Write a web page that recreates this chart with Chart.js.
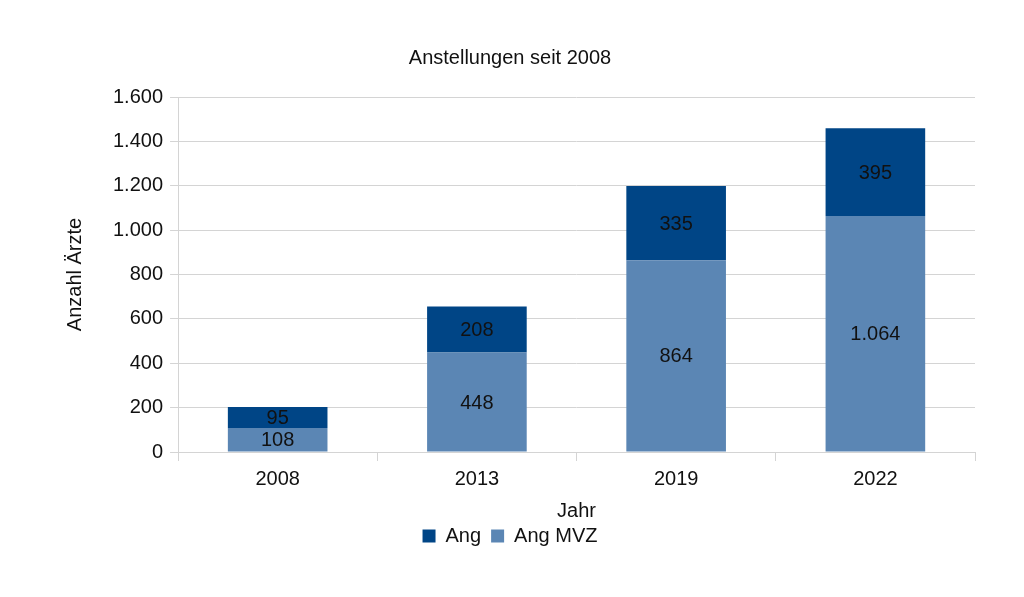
<!DOCTYPE html>
<html>
<head>
    <meta charset="utf-8">
    <title>Anstellungen seit 2008</title>
    <script src="https://cdn.jsdelivr.net/npm/chart.js"></script>
    <style>
        html, body { margin: 0; padding: 0; background: #fff; }
        canvas { display: block; }
    </style>
</head>
<body>
    <canvas id="chart" width="1024" height="597"></canvas>
    <script>
        const years = ['2008', '2013', '2019', '2022'];
        const angMVZ = [108, 448, 864, 1064];
        const ang = [95, 208, 335, 395];

        const fmt = v => String(v).replace(/\B(?=(\d{3})+(?!\d))/g, '.');
        const gridGray = '#d4d4d4';

        // writes the value in the middle of each bar segment
        const barLabels = {
            id: 'barLabels',
            afterDatasetsDraw(chart) {
                const ctx = chart.ctx;
                ctx.save();
                ctx.font = '20px "Liberation Sans", Arial, sans-serif';
                ctx.fillStyle = '#111';
                ctx.textAlign = 'center';
                ctx.textBaseline = 'middle';
                chart.data.datasets.forEach((ds, i) => {
                    chart.getDatasetMeta(i).data.forEach((bar, j) => {
                        ctx.fillText(fmt(ds.data[j]), bar.x, (bar.y + bar.base) / 2 + 1);
                    });
                });
                ctx.restore();
            }
        };

        Chart.defaults.font.family = '"Liberation Sans", Arial, sans-serif';
        Chart.defaults.font.size = 20;
        Chart.defaults.color = '#111';

        new Chart(document.getElementById('chart'), {
            type: 'bar',
            data: {
                labels: years,
                datasets: [
                    { label: 'Ang MVZ', data: angMVZ, backgroundColor: '#5b86b4', categoryPercentage: 1, barPercentage: 0.5 },
                    { label: 'Ang', data: ang, backgroundColor: '#004586', categoryPercentage: 1, barPercentage: 0.5 }
                ]
            },
            options: {
                responsive: false,
                animation: false,
                layout: { padding: { top: 31, left: 45, right: 49, bottom: 41 } },
                plugins: {
                    title: {
                        display: true,
                        text: 'Anstellungen seit 2008',
                        font: { size: 20, weight: 'normal' },
                        padding: { top: 15, bottom: 27 }
                    },
                    legend: {
                        position: 'bottom',
                        reverse: true,
                        labels: { boxWidth: 13, boxHeight: 13, padding: 10, font: { size: 20 } }
                    },
                    tooltip: { enabled: false }
                },
                scales: {
                    x: {
                        stacked: true,
                        offset: true,
                        grid: {
                            offset: true,
                            color: c => (c.index === 0 || c.index === years.length) ? gridGray : 'rgba(0,0,0,0)',
                            tickColor: gridGray,
                            tickLength: 9
                        },
                        border: { display: false },
                        ticks: { padding: 6 },
                        title: { display: true, text: 'Jahr', font: { size: 20 }, padding: { top: 2, bottom: -7 } }
                    },
                    y: {
                        stacked: true,
                        min: 0,
                        max: 1600,
                        ticks: { stepSize: 200, padding: 7, callback: v => fmt(v) },
                        grid: { color: gridGray, tickColor: gridGray, tickLength: 8 },
                        border: { display: false },
                        title: { display: true, text: 'Anzahl Ärzte', font: { size: 20 }, padding: { top: 18, bottom: 19 } }
                    }
                }
            },
            plugins: [barLabels]
        });
    </script>
</body>
</html>
